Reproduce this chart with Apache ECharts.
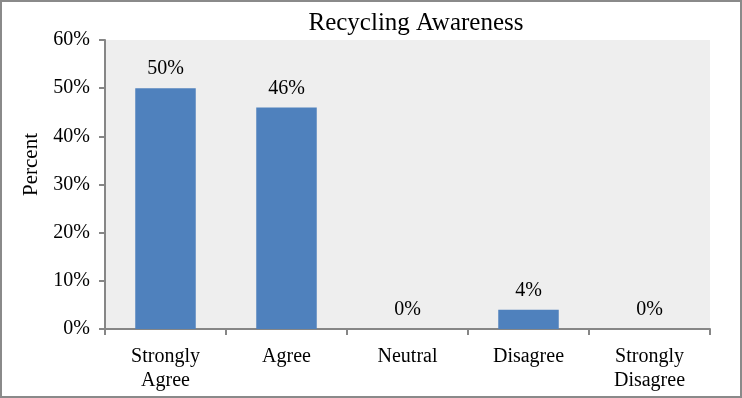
<!DOCTYPE html>
<html>
<head>
<meta charset="utf-8">
<script src="https://cdn.jsdelivr.net/npm/echarts@6/dist/echarts.min.js"></script>
<style>
  html, body { margin: 0; padding: 0; background: #fff; }
  #chart { width: 742px; height: 398px; box-sizing: border-box; border: 2px solid #8a8a8a; }
</style>
</head>
<body>
<div id="chart"></div>
<script>
// data
const categories = ['Strongly\nAgree', 'Agree', 'Neutral', 'Disagree', 'Strongly\nDisagree']
const percents = [50, 46, 0, 4, 0]
const yTicks = [0, 10, 20, 30, 40, 50, 60]

const font = '"Liberation Serif", "Times New Roman", serif'

const chart = echarts.init(document.getElementById('chart'))
chart.setOption({
  animation: false,
  title: {
    text: 'Recycling Awareness',
    left: 409,
    top: 4,
    textAlign: 'center',
    textStyle: { fontFamily: font, fontSize: 25, fontWeight: 'normal', color: '#000' }
  },
  grid: {
    left: 103, right: 30, top: 38, bottom: 67,
    show: true, backgroundColor: '#eeeeee', borderWidth: 0
  },
  xAxis: {
    type: 'category',
    data: categories,
    axisLine: { lineStyle: { color: '#868686', width: 2 } },
    axisTick: { show: true, length: 6, lineStyle: { color: '#868686', width: 2 } },
    axisLabel: { fontFamily: font, fontSize: 20, color: '#000', margin: 16, lineHeight: 24, interval: 0 }
  },
  yAxis: {
    type: 'value',
    min: yTicks[0], max: yTicks[yTicks.length - 1], interval: 10,
    name: 'Percent',
    nameLocation: 'middle',
    nameGap: 62,
    nameTextStyle: { fontFamily: font, fontSize: 21, color: '#000', padding: [0, 0, 0, 40] },
    axisLine: { show: true, lineStyle: { color: '#868686', width: 2 } },
    axisTick: { show: true, length: 6, lineStyle: { color: '#868686', width: 2 } },
    splitLine: { show: false },
    axisLabel: { fontFamily: font, fontSize: 20, color: '#000', margin: 15, formatter: v => v + '%' }
  },
  series: [{
    type: 'bar',
    data: percents,
    barCategoryGap: '50%',
    itemStyle: { color: '#4f81bd' },
    label: {
      show: true, position: 'top', distance: 9,
      fontFamily: font, fontSize: 20, color: '#000',
      formatter: p => p.value + '%'
    }
  }]
})
</script>
</body>
</html>
